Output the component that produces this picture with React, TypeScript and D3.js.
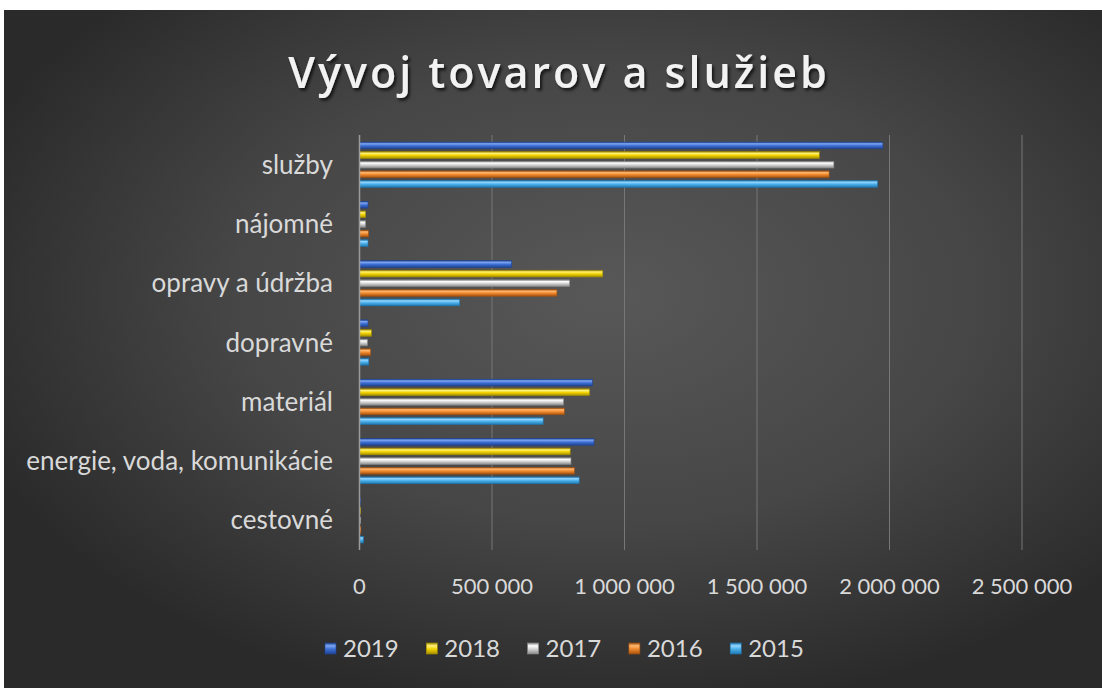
import React from "react";
import * as d3 from "d3";

// chart data
const categories = [
  "služby",
  "nájomné",
  "opravy a údržba",
  "dopravné",
  "materiál",
  "energie, voda, komunikácie",
  "cestovné",
];
const years = ["2019", "2018", "2017", "2016", "2015"];
const values2019 = [1975000, 32000, 574000, 32000, 879000, 885000, 2000];
const values2018 = [1735000, 23000, 918000, 45000, 868000, 795000, 3000];
const values2017 = [1790000, 23000, 793000, 30000, 770000, 798000, 4000];
const values2016 = [1772000, 34000, 745000, 42000, 773000, 811000, 5000];
const values2015 = [1955000, 32000, 378000, 35000, 693000, 829000, 15000];
const xTicks = [0, 500000, 1000000, 1500000, 2000000, 2500000];

const seriesValues = [values2019, values2018, values2017, values2016, values2015];
// base, light, dark for each year
const colors = [
  ["#3d6fd6", "#7fa6f0", "#1f4596"],
  ["#f2d300", "#fff27a", "#a68f00"],
  ["#d4d4d4", "#ffffff", "#8a8a8a"],
  ["#f0892e", "#ffb870", "#a5520f"],
  ["#4cb0ea", "#94d6ff", "#1f79b3"],
];

const W = 1102;
const H = 688;
const plot = { left: 359.5, right: 1022, top: 135, bottom: 550 };

const fmt = (v: number) => (v === 0 ? "0" : d3.format(",")(v).replace(/,/g, " "));

export default function App() {
  const x = d3.scaleLinear().domain([0, 2500000]).range([plot.left, plot.right]);
  const y = d3
    .scaleBand<string>()
    .domain(categories)
    .range([plot.top, plot.bottom])
    .paddingInner(0.14)
    .paddingOuter(0.07);
  const inner = d3
    .scaleBand<string>()
    .domain(years)
    .range([0, y.bandwidth()])
    .padding(0.3);

  const labelFont = "Lato, 'Open Sans', sans-serif";

  return (
    <div style={{ position: "absolute", left: 0, top: 0 }}>
      <svg width={W} height={H} style={{ display: "block" }}>
        <defs>
          <radialGradient id="bg" cx="0.55" cy="0.42" r="0.62">
            <stop offset="0%" stopColor="#585858" />
            <stop offset="55%" stopColor="#464646" />
            <stop offset="100%" stopColor="#2a2a2a" />
          </radialGradient>
          {colors.map((c, i) => (
            <linearGradient key={i} id={`bar${i}`} x1="0" y1="0" x2="0" y2="1">
              <stop offset="0%" stopColor={c[2]} />
              <stop offset="25%" stopColor={c[1]} />
              <stop offset="55%" stopColor={c[0]} />
              <stop offset="100%" stopColor={c[2]} />
            </linearGradient>
          ))}
          <filter id="shadow" x="-10%" y="-30%" width="120%" height="160%">
            <feDropShadow dx="2" dy="2.5" stdDeviation="1.5" floodColor="#000" floodOpacity="0.7" />
          </filter>
        </defs>

        <rect x={0} y={0} width={W} height={H} fill="#fff" />
        <rect x={4} y={10} width={W - 4} height={H - 10} fill="url(#bg)" />

        <text
          x={559}
          y={88}
          textAnchor="middle"
          fill="#f2f2f2"
          fontFamily="'Open Sans', sans-serif"
          fontWeight={600}
          fontSize={43}
          letterSpacing={3}
          filter="url(#shadow)"
        >
          Vývoj tovarov a služieb
        </text>

        {/* gridlines */}
        {xTicks.slice(1).map((t) => (
          <line
            key={t}
            x1={x(t)}
            x2={x(t)}
            y1={plot.top}
            y2={plot.bottom}
            stroke="#777"
            strokeWidth={1}
          />
        ))}

        {/* bars */}
        {categories.map((cat, ci) =>
          years.map((yr, si) => {
            const v = seriesValues[si][ci];
            const y0 = (y(cat) as number) + (inner(yr) as number);
            const w = Math.max(x(v) - x(0), 1);
            return (
              <rect
                key={cat + yr}
                x={x(0)}
                y={y0}
                width={w}
                height={inner.bandwidth()}
                fill={`url(#bar${si})`}
                stroke={colors[si][2]}
                strokeWidth={0.6}
              />
            );
          })
        )}

        {/* axis line */}
        <line x1={x(0)} x2={x(0)} y1={plot.top} y2={plot.bottom} stroke="#9a9a9a" strokeWidth={1.5} />

        {/* category labels */}
        {categories.map((cat) => (
          <text
            key={cat}
            x={333}
            y={(y(cat) as number) + y.bandwidth() / 2}
            dy="0.35em"
            textAnchor="end"
            fill="#d9d9d9"
            fontFamily={labelFont}
            fontSize={26}
          >
            {cat}
          </text>
        ))}

        {/* tick labels */}
        {xTicks.map((t) => (
          <text
            key={t}
            x={x(t)}
            y={586}
            dy="0.35em"
            textAnchor="middle"
            fill="#d9d9d9"
            fontFamily={labelFont}
            fontSize={22}
          >
            {fmt(t)}
          </text>
        ))}

        {/* legend */}
        {years.map((yr, i) => {
          const lx = 325 + i * 101.3;
          return (
            <g key={yr} transform={`translate(${lx},649)`}>
              <rect x={0} y={-6} width={11} height={11} fill={`url(#bar${i})`} stroke={colors[i][2]} strokeWidth={0.6} />
              <text
                x={18}
                y={0}
                dy="0.35em"
                fill="#d9d9d9"
                fontFamily={labelFont}
                fontSize={24}
              >
                {yr}
              </text>
            </g>
          );
        })}
      </svg>
    </div>
  );
}
